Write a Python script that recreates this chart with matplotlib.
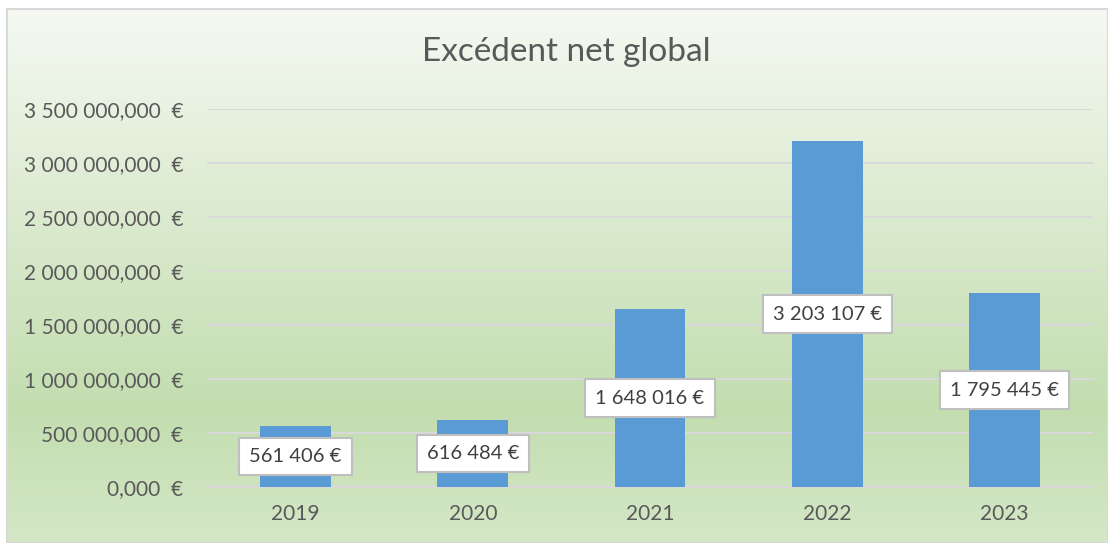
import numpy as np
import matplotlib
matplotlib.use('Agg')
import matplotlib.pyplot as plt
from matplotlib.colors import LinearSegmentedColormap

years = ['2019', '2020', '2021', '2022', '2023']
values = [561406, 616484, 1648016, 3203107, 1795445]
yticks = [0, 500000, 1000000, 1500000, 2000000, 2500000, 3000000, 3500000]


def fmt_tick(v):
    s = '{:,}'.format(int(v)).replace(',', ' ')
    return s + ',000  €' if v else '0,000  €'


def fmt_label(v):
    return '{:,}'.format(int(v)).replace(',', ' ') + ' €'


plt.rcParams['font.family'] = ['Lato', 'DejaVu Sans']
fig = plt.figure(figsize=(11.08, 5.43), dpi=100)

# gradient background of the chart area
bg = fig.add_axes([7 / 1108, 0, 1 - 7 / 1108, (543 - 9) / 543], zorder=-1)
cmap = LinearSegmentedColormap.from_list('g', [(0, '#f5f9f2'), (0.75, '#c3ddaf'), (1, '#d4e7c7')])
bg.imshow(np.linspace(0, 1, 256).reshape(-1, 1), aspect='auto', cmap=cmap, extent=[0, 1, 0, 1])
bg.set_xticks([])
bg.set_yticks([])
for s in bg.spines.values():
    s.set_color('#d9d9d9')
    s.set_linewidth(1.5)

ax = fig.add_axes([207 / 1108, (543 - 487) / 543, (1093 - 207) / 1108, (487 - 109) / 543])
ax.patch.set_alpha(0)
x = np.arange(len(years))
ax.bar(x, values, width=0.4, color='#5b9bd5', zorder=3)
ax.set_xlim(-0.5, len(years) - 0.5)
ax.set_ylim(0, 3500000)
ax.set_yticks(yticks)
ax.set_yticklabels([fmt_tick(v) for v in yticks])
ax.set_xticks(x)
ax.set_xticklabels(years)
ax.tick_params(length=0, labelsize=15, colors='#595959')
ax.tick_params(axis='y', pad=17)
ax.tick_params(axis='x', pad=12)
ax.grid(axis='y', color='#d9d9d9', linewidth=1.5, zorder=0)
for s in ['top', 'right', 'left']:
    ax.spines[s].set_visible(False)
ax.spines['bottom'].set_color('#d9d9d9')
ax.spines['bottom'].set_linewidth(1.5)

for xi, v in zip(x, values):
    ax.text(xi, v / 2, fmt_label(v), ha='center', va='center', fontsize=14.5, color='#404040', zorder=5,
            bbox=dict(boxstyle='square,pad=0.5', facecolor='white', edgecolor='#bfbfbf', linewidth=1.5))

fig.text(566 / 1108, 1 - 52 / 543, 'Excédent net global', ha='center', va='center', fontsize=24, color='#595959')

fig.savefig('out.png', dpi=100)
